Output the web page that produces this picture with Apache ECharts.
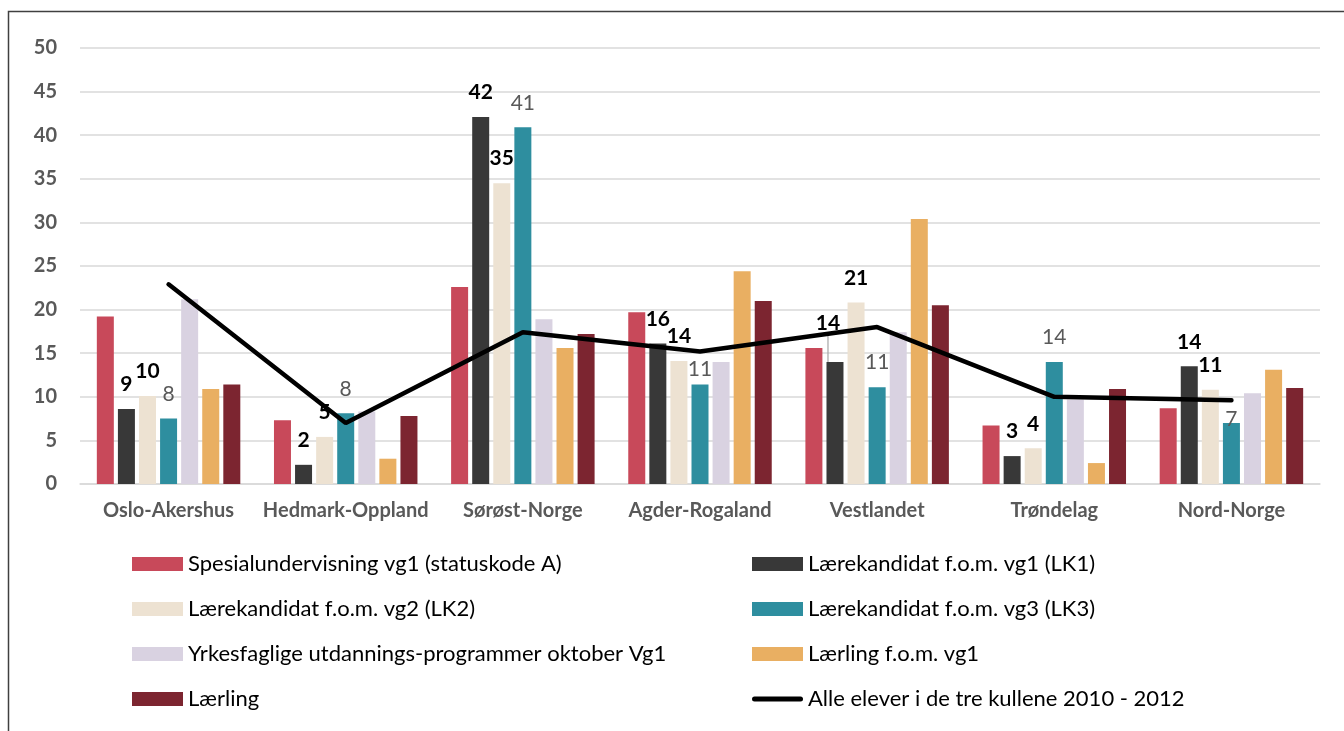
<!DOCTYPE html>
<html>
<head>
<meta charset="utf-8">
<script src="https://cdn.jsdelivr.net/npm/echarts@6/dist/echarts.min.js"></script>
<style>html,body{margin:0;padding:0;background:#fff;}#c{width:1344px;height:731px;}</style>
</head>
<body>
<div id="c"></div>
<script>
const categories = ['Oslo-Akershus','Hedmark-Oppland','Sørøst-Norge','Agder-Rogaland','Vestlandet','Trøndelag','Nord-Norge'];
const seriesNames = [
  'Spesialundervisning vg1 (statuskode A)',
  'Lærekandidat f.o.m. vg1 (LK1)',
  'Lærekandidat f.o.m. vg2 (LK2)',
  'Lærekandidat f.o.m. vg3 (LK3)',
  'Yrkesfaglige utdannings-programmer oktober Vg1',
  'Lærling f.o.m. vg1',
  'Lærling'
];
const lineName = 'Alle elever i de tre kullene 2010 - 2012';
const spesial = [19.2, 7.3, 22.6, 19.7, 15.6, 6.7, 8.7];
const lk1 = [8.6, 2.2, 42.1, 16.1, 14.0, 3.2, 13.5];
const lk2 = [10.1, 5.4, 34.5, 14.1, 20.8, 4.1, 10.8];
const lk3 = [7.5, 8.1, 40.9, 11.4, 11.1, 14.0, 7.0];
const yrkes = [21.2, 8.3, 18.9, 14.0, 17.4, 9.7, 10.4];
const laerlingVg1 = [10.9, 2.9, 15.6, 24.4, 30.4, 2.4, 13.1];
const laerling = [11.4, 7.8, 17.2, 21.0, 20.5, 10.9, 11.0];
const alleElever = [22.9, 7.0, 17.4, 15.2, 18.0, 10.0, 9.6];
const lk1Labels = [9, 2, 42, 16, 14, 3, 14];
const lk2Labels = [10, 5, 35, 14, 21, 4, 11];
const lk3Labels = [8, 8, 41, 11, 11, 14, 7];
const yTicks = [0, 5, 10, 15, 20, 25, 30, 35, 40, 45, 50];

const colors = ['#C8495A', '#383838', '#EDE2D2', '#2E8E9F', '#D9D2E1', '#E9AF62', '#7C2530'];
const FONT = 'Lato';
const values = [spesial, lk1, lk2, lk3, yrkes, laerlingVg1, laerling];
const labelTexts = {1: lk1Labels, 2: lk2Labels, 3: lk3Labels};
// per-point label nudges (style only)
const labelMoves = {1: {4: {dx: -7, dy: -14}}, 3: {3: {dy: 9}, 6: {dy: 21}}};
const leaderLines = {1: [4]};

const series = values.map((vals, i) => {
  const lead = leaderLines[i] || [];
  const s = {
    name: seriesNames[i], type: 'bar',
    data: vals.map((v, j) => lead.indexOf(j) >= 0
      ? {value: v, labelLine: {show: true, lineStyle: {color: '#a6a6a6', width: 1.2}}}
      : v),
    barWidth: 17, barGap: '24%',
    itemStyle: {color: colors[i]}, z: 2
  };
  if (labelTexts[i]) {
    const bold = i !== 3;
    s.label = {
      show: true, position: 'top', distance: 14,
      formatter: p => String(labelTexts[i][p.dataIndex]),
      fontFamily: FONT, fontSize: 21, fontWeight: bold ? 'bold' : 'normal',
      color: bold ? '#000' : '#595959'
    };
    const mv = labelMoves[i];
    if (mv) s.labelLayout = p => mv[p.dataIndex] ? mv[p.dataIndex] : {};
  }
  return s;
});
series.push({
  name: lineName, type: 'line', data: alleElever, symbol: 'none', z: 5,
  lineStyle: {color: '#000', width: 4.5, cap: 'round'}, itemStyle: {color: '#000'}
});

const legendText = {fontFamily: FONT, fontSize: 22, color: '#000', lineHeight: 24};
const lineIcon = 'path://M2.5,0 L48.5,0 A2.5,2.5 0 0 1 48.5,5 L2.5,5 A2.5,2.5 0 0 1 2.5,0 Z';
const chart = echarts.init(document.getElementById('c'), null, {renderer: 'canvas'});
chart.setOption({
  animation: false,
  backgroundColor: '#fff',
  textStyle: {fontFamily: FONT},
  grid: {left: 80, right: 24, top: 48, bottom: 247, containLabel: false},
  xAxis: {
    type: 'category', data: categories,
    axisLine: {lineStyle: {color: '#d9d9d9', width: 1.5}},
    axisTick: {show: false},
    axisLabel: {interval: 0, fontFamily: FONT, fontSize: 20, fontWeight: 'bold', color: '#595959', margin: 17}
  },
  yAxis: {
    type: 'value', min: yTicks[0], max: yTicks[yTicks.length - 1], interval: 5,
    axisLine: {show: false}, axisTick: {show: false},
    splitLine: {lineStyle: {color: '#d9d9d9', width: 1.5}},
    axisLabel: {fontFamily: FONT, fontSize: 20, fontWeight: 'bold', color: '#595959', margin: 23}
  },
  legend: [
    {
      orient: 'vertical', left: 132, top: 552, padding: 0, itemWidth: 51, itemHeight: 14, itemGap: 21,
      icon: 'rect', textStyle: legendText, selectedMode: false,
      data: [seriesNames[0], seriesNames[2], seriesNames[4], seriesNames[6]]
    },
    {
      orient: 'vertical', left: 752, top: 552, padding: 0, itemWidth: 51, itemHeight: 14, itemGap: 21,
      textStyle: legendText, selectedMode: false,
      data: [
        {name: seriesNames[1], icon: 'rect'},
        {name: seriesNames[3], icon: 'rect'},
        {name: seriesNames[5], icon: 'rect'},
        {name: lineName, icon: lineIcon}
      ]
    }
  ],
  graphic: [{
    type: 'rect', shape: {x: 8.5, y: 11.5, width: 1500, height: 900},
    style: {fill: 'none', stroke: '#404040', lineWidth: 1.5}, silent: true
  }],
  series: series
});
</script>
</body>
</html>
